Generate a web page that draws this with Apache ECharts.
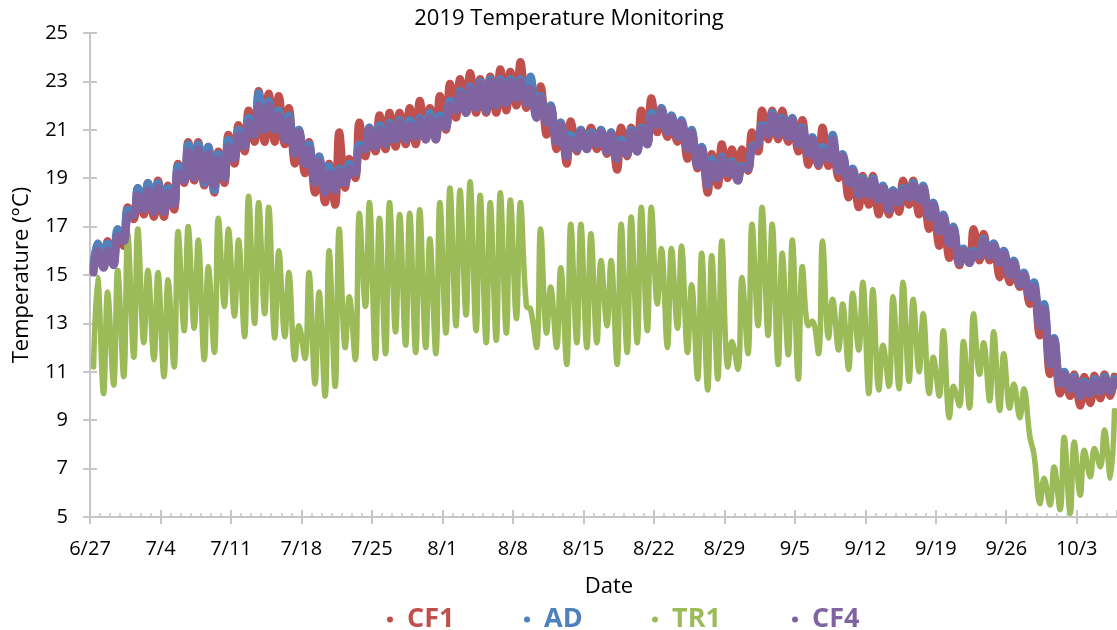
<!DOCTYPE html>
<html>
<head>
<meta charset="utf-8">
<script src="https://cdn.jsdelivr.net/npm/echarts@6/dist/echarts.min.js"></script>
<style>
html,body{margin:0;padding:0;background:#fff;}
#chart{width:1117px;height:630px;}
</style>
</head>
<body>
<div id="chart"></div>
<script>
// Daily readings, given as [daily low, daily high] pairs, day 0 = 6/27/2019
const seriesNames = ['CF1', 'AD', 'TR1', 'CF4'];
const seriesColors = ['#C0504D', '#4F81BD', '#9BBB59', '#8064A2'];
const yTicks = [5, 7, 9, 11, 13, 15, 17, 19, 21, 23, 25];
const xTickDays = 7; // weekly date labels
const startDate = [2019, 6, 27];
const sampleFrac = [0.35, 0.75]; // time of day of the low and the high readings

const cf1 = [
15.2,16.3, 15.4,16.4, 15.5,16.8, 16.2,17.8, 17.3,18.6, 17.5,18.8, 17.4,18.9, 17.4,18.7, 17.7,19.6, 18.8,20.5,
18.9,20.5, 18.7,20.3, 18.4,20.1, 18.8,20.8, 19.6,21.2, 20.1,21.8, 20.5,22.6, 20.5,22.5, 20.5,22.4, 20.4,21.9,
19.6,21.0, 19.2,20.5, 18.4,19.9, 18.0,19.6, 17.9,20.9, 18.6,19.8, 19.0,21.3, 19.9,21.1, 20.1,21.6, 20.2,21.7,
20.3,21.7, 20.4,21.9, 20.4,22.2, 20.6,21.9, 20.6,22.4, 21.0,22.9, 21.5,23.1, 21.7,23.35, 21.7,23.1, 21.7,23.2,
21.7,23.5, 21.8,23.4, 22.0,23.8, 21.9,22.9, 21.7,22.8, 20.8,22.0, 20.2,21.3, 19.6,21.35, 20.1,21.0, 20.3,21.1,
20.2,21.0, 20.0,20.9, 19.35,21.1, 19.9,21.1, 20.2,21.8, 20.4,22.3, 20.9,21.9, 20.7,21.3, 20.5,21.3, 19.8,20.9,
19.4,20.2, 18.4,20.0, 18.7,20.4, 19.0,20.2, 19.1,20.2, 19.3,20.9, 20.1,21.8, 20.6,21.8, 20.6,21.8, 20.5,21.3,
20.1,21.4, 19.55,20.6, 19.5,21.1, 19.5,20.4, 19.0,19.9, 18.2,19.2, 17.8,19.1, 17.9,19.1, 17.5,18.6, 17.5,18.5,
17.6,18.9, 17.9,18.9, 17.5,18.6, 16.9,17.8, 16.2,17.4, 15.7,16.9, 15.4,16.0, 15.5,16.9, 15.6,16.7, 15.6,16.3,
14.9,16.0, 14.7,15.5, 14.5,15.0, 13.8,14.4, 12.5,13.3, 10.9,11.9, 10.1,10.9, 10.0,10.9, 9.6,10.8, 9.7,10.85,
9.9,10.9, 10.0,10.8
];

const ad = [
15.4,16.3, 15.5,16.3, 15.6,16.9, 16.6,17.7, 17.6,18.6, 17.8,18.8, 17.7,18.8, 17.6,18.6, 18.0,19.5, 19.0,20.4,
19.1,20.4, 18.8,20.3, 18.5,20.0, 19.0,20.6, 19.9,21.0, 20.4,21.5, 20.8,22.5, 21.0,22.2, 21.0,21.8, 20.6,21.6,
20.0,21.0, 19.6,20.4, 18.8,19.9, 18.5,19.5, 18.5,19.4, 18.9,19.6, 19.3,20.4, 20.2,21.1, 20.3,21.2, 20.4,21.3,
20.6,21.4, 20.6,21.4, 20.7,21.5, 20.8,21.7, 20.7,21.6, 21.1,22.2, 21.8,22.6, 21.7,22.8, 21.9,23.0, 21.8,23.1,
22.0,23.1, 22.1,23.1, 22.3,23.1, 22.1,23.2, 21.5,22.4, 21.3,22.0, 20.5,21.3, 19.9,20.8, 20.2,21.0, 20.2,20.9,
20.4,21.0, 20.1,20.9, 19.8,20.6, 20.0,21.0, 20.1,21.1, 20.4,21.7, 21.2,21.9, 20.9,21.6, 20.7,21.4, 20.2,21.0,
19.5,20.3, 18.8,19.8, 19.0,19.9, 19.2,19.7, 18.9,19.5, 19.4,20.3, 20.4,21.2, 20.9,21.7, 20.8,21.5, 20.7,21.5,
20.4,21.1, 20.0,20.7, 19.6,20.3, 19.8,20.8, 19.3,20.0, 18.8,19.4, 18.3,19.0, 18.3,19.0, 18.1,18.7, 17.7,18.5,
18.0,18.6, 18.2,18.8, 18.1,18.7, 17.4,18.0, 16.8,17.5, 16.3,17.0, 15.5,16.1, 15.5,16.0, 15.8,16.5, 15.8,16.3,
15.5,16.0, 15.0,15.6, 14.6,15.1, 14.1,14.7, 12.9,13.8, 11.3,12.4, 10.5,11.0, 10.3,10.8, 10.0,10.6, 10.1,10.7,
10.2,10.8, 10.2,10.7
];

const tr1 = [
11.2,14.9, 10.1,14.3, 10.45,15.2, 10.8,16.7, 11.6,16.9, 12.2,15.2, 11.5,15.1, 10.8,14.8, 11.2,16.8, 12.7,17.0,
12.8,16.45, 11.5,15.35, 11.8,17.35, 13.7,16.9, 13.3,16.45, 12.45,18.25, 13.0,18.0, 13.4,17.8, 12.4,16.0, 12.45,15.1,
11.5,12.9, 11.55,15.1, 10.5,14.3, 10.0,16.0, 10.4,16.9, 12.0,14.1, 11.5,17.55, 13.7,18.0, 11.55,17.35, 11.75,18.0,
12.65,17.5, 12.1,17.55, 11.8,17.7, 12.0,16.5, 11.75,18.0, 12.6,18.6, 12.9,18.5, 13.35,18.85, 12.7,18.3, 12.2,18.0,
12.3,18.4, 12.6,18.1, 13.2,18.0, 13.7,13.6, 12.0,16.9, 12.6,14.5, 12.0,15.3, 11.3,17.1, 12.2,17.1, 12.0,16.7,
12.2,15.6, 12.9,15.6, 11.3,17.1, 11.8,17.4, 12.2,17.8, 12.7,17.8, 13.8,16.1, 12.0,16.1, 12.8,16.2, 11.8,14.6,
10.7,15.9, 10.25,15.8, 10.7,16.4, 11.2,12.25, 11.1,14.9, 11.75,17.1, 12.9,17.8, 12.5,17.1, 11.3,15.9, 11.7,16.45,
10.7,15.35, 12.9,13.1, 11.75,16.4, 12.4,14.0, 11.9,13.8, 11.1,14.25, 11.9,14.7, 10.1,14.4, 10.25,12.1, 10.4,14.1,
10.3,14.7, 10.6,14.0, 11.0,13.4, 10.1,11.6, 10.0,12.7, 9.1,10.4, 9.6,12.25, 9.5,13.4, 10.9,12.2, 9.8,12.65,
9.4,11.75, 9.5,10.5, 9.1,10.3, 8.3,7.6, 5.55,6.6, 5.5,7.07, 5.3,8.3, 5.14,8.1, 5.9,7.76, 6.66,7.83,
7.07,8.59, 6.6,9.4
];

const cf4 = [
15.1,16.0, 15.3,16.0, 15.4,16.6, 16.4,17.4, 17.5,18.3, 17.7,18.5, 17.6,18.6, 17.6,18.4, 17.9,19.2, 18.9,20.1,
19.0,20.2, 18.9,20.0, 18.7,19.8, 19.0,20.3, 19.8,20.8, 20.3,21.3, 20.8,22.0, 21.0,22.0, 21.0,21.6, 20.6,21.4,
20.0,20.9, 19.6,20.2, 18.8,19.7, 18.4,19.2, 18.5,19.3, 18.8,19.4, 19.2,20.2, 20.2,21.0, 20.3,21.0, 20.4,21.2,
20.6,21.3, 20.6,21.2, 20.7,21.4, 20.6,21.5, 20.6,21.4, 21.1,22.0, 21.8,22.5, 21.7,22.7, 21.9,22.9, 21.8,23.0,
22.0,23.0, 22.1,23.0, 22.3,23.0, 22.1,22.7, 21.5,22.3, 21.3,21.9, 20.5,21.2, 19.9,20.6, 20.2,20.9, 20.2,20.8,
20.4,20.9, 20.1,20.8, 19.8,20.4, 20.0,20.9, 20.1,21.0, 20.4,21.5, 21.2,21.8, 20.9,21.5, 20.7,21.3, 20.2,20.9,
19.5,20.2, 18.7,19.6, 19.0,19.8, 19.2,19.6, 18.9,19.4, 19.4,20.2, 20.4,21.1, 20.8,21.6, 20.8,21.4, 20.7,21.4,
20.4,21.0, 20.0,20.6, 19.6,20.1, 19.8,20.6, 19.3,19.9, 18.8,19.3, 18.3,18.9, 18.3,18.9, 18.1,18.6, 17.7,18.4,
18.0,18.5, 18.2,18.7, 18.1,18.6, 17.4,17.9, 16.8,17.4, 16.3,16.9, 15.5,16.0, 15.5,15.9, 15.8,16.4, 15.8,16.2,
15.5,15.9, 15.0,15.5, 14.6,15.0, 14.1,14.5, 12.9,13.6, 11.3,12.3, 10.5,10.9, 10.3,10.7, 10.0,10.5, 10.1,10.6,
10.2,10.7, 10.2,10.6
];

const seriesValues = [cf1, ad, tr1, cf4];
const legendLeft = [382, 519, 647, 787];

function toPoints(vals) {
  const pts = [];
  for (let i = 0; i < vals.length; i++) {
    const day = Math.floor(i / 2);
    pts.push([day + sampleFrac[i % 2], vals[i]]);
  }
  return pts;
}

const startMs = Date.UTC(startDate[0], startDate[1] - 1, startDate[2]);
function dayLabel(v) {
  const dt = new Date(startMs + Math.round(v) * 86400000);
  return (dt.getUTCMonth() + 1) + '/' + dt.getUTCDate();
}

const FONT = '"Open Sans", Lato, sans-serif';
const gray = '#C6C6C6';
const xMax = 102;

const chart = echarts.init(document.getElementById('chart'), null, {renderer: 'canvas'});
chart.setOption({
  animation: false,
  backgroundColor: '#ffffff',
  textStyle: {fontFamily: FONT},
  title: [
    {text: '2019 Temperature Monitoring', left: 564, top: 3, textAlign: 'center',
     textStyle: {fontFamily: FONT, fontSize: 22, fontWeight: 'normal', color: '#000'}},
    {text: 'Date', left: 604, top: 571, textAlign: 'center',
     textStyle: {fontFamily: FONT, fontSize: 22, fontWeight: 'normal', color: '#000'}}
  ],
  legend: seriesNames.map((n, i) => ({
    top: 601, left: legendLeft[i],
    itemWidth: 6, itemHeight: 6, icon: 'circle',
    data: [{name: n, textStyle: {color: seriesColors[i]}}],
    textStyle: {fontFamily: FONT, fontSize: 27, fontWeight: 'bold', padding: [0, 0, 0, 9]}
  })),
  grid: {left: 90, right: 0, top: 33, bottom: 113, containLabel: false},
  xAxis: [
    {type: 'value', min: 0, max: xMax, interval: xTickDays,
     axisLine: {show: true, lineStyle: {color: gray, width: 2}},
     axisTick: {show: true, inside: false, length: 7, lineStyle: {color: gray, width: 2}},
     splitLine: {show: false},
     axisLabel: {formatter: dayLabel, fontSize: 20, color: '#000', margin: 22, fontFamily: FONT, showMaxLabel: false}},
    {type: 'value', min: 0, max: xMax, interval: xTickDays, position: 'bottom', offset: 0,
     axisLine: {show: false},
     axisTick: {show: true, inside: true, length: 7, lineStyle: {color: gray, width: 2}},
     splitLine: {show: false},
     axisLabel: {show: false}},
    {type: 'value', min: 0, max: xMax, interval: 1, position: 'bottom', offset: 0,
     axisLine: {show: false},
     axisTick: {show: true, inside: true, length: 4, lineStyle: {color: gray, width: 1.5}},
     splitLine: {show: false},
     axisLabel: {show: false}}
  ],
  yAxis: [
    {type: 'value', min: yTicks[0], max: yTicks[yTicks.length - 1], interval: 2,
     name: 'Temperature (°C)', nameLocation: 'middle', nameGap: 57, nameRotate: 90,
     nameTextStyle: {fontFamily: FONT, fontSize: 22, color: '#000'},
     axisLine: {show: true, lineStyle: {color: gray, width: 2}},
     axisTick: {show: true, inside: false, length: 7, lineStyle: {color: gray, width: 2}},
     splitLine: {show: false},
     axisLabel: {fontSize: 20, color: '#000', margin: 22, fontFamily: FONT}},
    {type: 'value', min: yTicks[0], max: yTicks[yTicks.length - 1], interval: 2, position: 'left', offset: 0,
     axisLine: {show: false},
     axisTick: {show: true, inside: true, length: 7, lineStyle: {color: gray, width: 2}},
     splitLine: {show: false},
     axisLabel: {show: false}}
  ],
  series: seriesNames.map((n, i) => ({
    name: n, type: 'line', xAxisIndex: 0, yAxisIndex: 0,
    data: toPoints(seriesValues[i]),
    smooth: 0.4, showSymbol: false, symbol: 'circle',
    itemStyle: {color: seriesColors[i]},
    lineStyle: {color: seriesColors[i], width: n === 'TR1' ? 5.5 : 8, cap: 'round', join: 'round'},
    z: 2 + i
  }))
});
</script>
</body>
</html>
